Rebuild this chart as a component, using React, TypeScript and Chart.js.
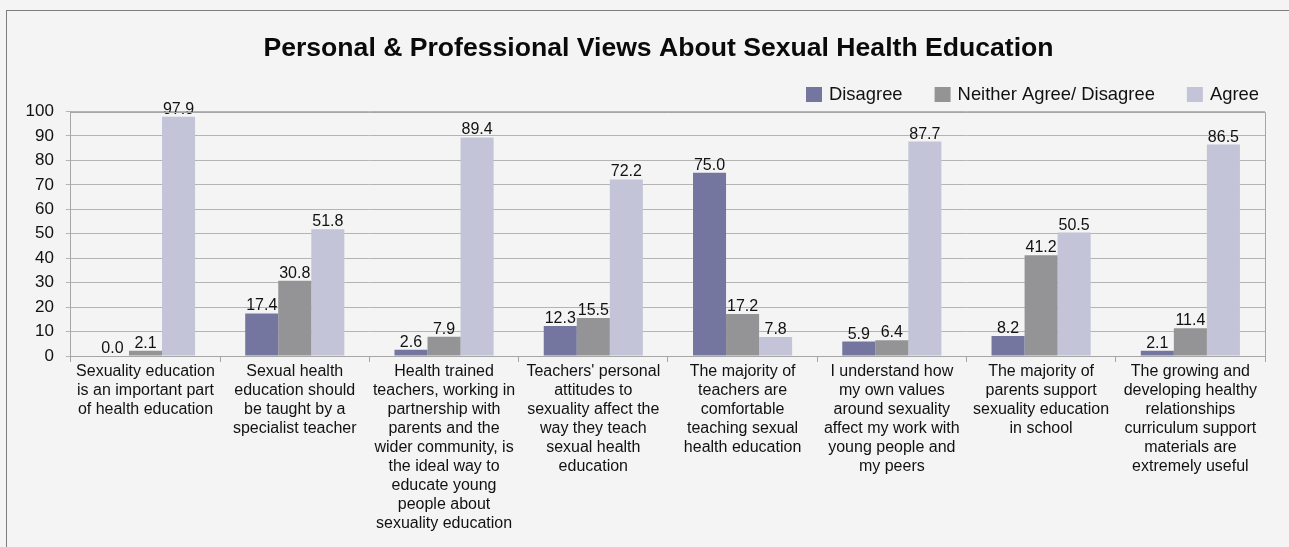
import React, { useEffect, useRef } from "react";
import { Chart, registerables } from "chart.js";

Chart.register(...registerables);

const FONT = "'Liberation Sans', Arial, sans-serif";

const categories: string[][] = [
  ["Sexuality education", "is an important part", "of health education"],
  ["Sexual health", "education should", "be taught by a", "specialist teacher"],
  [
    "Health trained",
    "teachers, working in",
    "partnership with",
    "parents and the",
    "wider community, is",
    "the ideal way to",
    "educate young",
    "people about",
    "sexuality education",
  ],
  ["Teachers' personal", "attitudes to", "sexuality affect the", "way they teach", "sexual health", "education"],
  ["The majority of", "teachers are", "comfortable", "teaching sexual", "health education"],
  ["I understand how", "my own values", "around sexuality", "affect my work with", "young people and", "my peers"],
  ["The majority of", "parents support", "sexuality education", "in school"],
  ["The growing and", "developing healthy", "relationships", "curriculum support", "materials are", "extremely useful"],
];

const seriesNames = ["Disagree", "Neither Agree/ Disagree", "Agree"];
const disagreeValues = [0.0, 17.4, 2.6, 12.3, 75.0, 5.9, 8.2, 2.1];
const neitherValues = [2.1, 30.8, 7.9, 15.5, 17.2, 6.4, 41.2, 11.4];
const agreeValues = [97.9, 51.8, 89.4, 72.2, 7.8, 87.7, 50.5, 86.5];
const seriesColors = ["#74769f", "#949497", "#c3c4d7"];

const titleText = "Personal & Professional Views About Sexual Health Education";
const yMin = 0;
const yMax = 100;
const yStep = 10;

const plotFrame = {
  id: "plotFrame",
  afterDraw(chart: any) {
    const { ctx, chartArea } = chart;
    ctx.save();
    ctx.strokeStyle = "#a6a6a6";
    ctx.lineWidth = 1;
    ctx.beginPath();
    ctx.moveTo(chartArea.left, Math.round(chartArea.top) + 0.5);
    ctx.lineTo(Math.round(chartArea.right) + 0.5, Math.round(chartArea.top) + 0.5);
    ctx.lineTo(Math.round(chartArea.right) + 0.5, chartArea.bottom);
    ctx.stroke();
    ctx.restore();
  },
};

const dataLabels = {
  id: "dataLabels",
  afterDatasetsDraw(chart: any) {
    const { ctx } = chart;
    ctx.save();
    ctx.font = `16px ${FONT}`;
    ctx.fillStyle = "#111";
    ctx.textAlign = "center";
    ctx.textBaseline = "alphabetic";
    chart.data.datasets.forEach((ds: any, di: number) => {
      const meta = chart.getDatasetMeta(di);
      meta.data.forEach((el: any, i: number) => {
        const v = ds.data[i] as number;
        ctx.fillText(v.toFixed(1), el.x, el.y - 3);
      });
    });
    ctx.restore();
  },
};

const chartTitle = {
  id: "chartTitle",
  afterDraw(chart: any) {
    const { ctx } = chart;
    ctx.save();
    ctx.font = `bold 26.6px ${FONT}`;
    ctx.fillStyle = "#0a0a0a";
    ctx.textAlign = "center";
    ctx.textBaseline = "middle";
    ctx.fillText(titleText, 658.5, 48.5);
    ctx.restore();
  },
};

const customLegend = {
  id: "customLegend",
  afterDraw(chart: any) {
    const { ctx } = chart;
    ctx.save();
    ctx.font = `18.4px ${FONT}`;
    ctx.textBaseline = "middle";
    ctx.textAlign = "left";
    const boxW = 16;
    const boxH = 15;
    const gapText = 7;
    const gapItem = 32;
    const leftEdge = 806;
    const cy = 94.5;
    let x = leftEdge;
    chart.data.datasets.forEach((ds: any) => {
      const w = ctx.measureText(ds.label).width;
      ctx.fillStyle = ds.backgroundColor;
      ctx.fillRect(x, cy - boxH / 2, boxW, boxH);
      ctx.fillStyle = "#111";
      ctx.fillText(ds.label, x + boxW + gapText, cy);
      x += boxW + gapText + w + gapItem;
    });
    ctx.restore();
  },
};

export default function App() {
  const canvasRef = useRef<HTMLCanvasElement | null>(null);

  useEffect(() => {
    if (!canvasRef.current) return;
    const chart = new Chart(canvasRef.current, {
      type: "bar",
      data: {
        labels: categories,
        datasets: [
          { label: seriesNames[0], data: disagreeValues, backgroundColor: seriesColors[0] },
          { label: seriesNames[1], data: neitherValues, backgroundColor: seriesColors[1] },
          { label: seriesNames[2], data: agreeValues, backgroundColor: seriesColors[2] },
        ],
      },
      options: {
        responsive: false,
        animation: false,
        devicePixelRatio: 1,
        datasets: {
          bar: { categoryPercentage: 0.664, barPercentage: 1.0, borderWidth: 0 },
        },
        layout: { padding: { left: 13.5, right: 52, top: 111.5, bottom: 14 } },
        plugins: {
          legend: { display: false },
          tooltip: { enabled: false },
          title: { display: false },
        },
        scales: {
          x: {
            grid: {
              drawOnChartArea: false,
              drawTicks: true,
              tickLength: 6,
              color: "#a6a6a6",
              offset: true,
            },
            border: { color: "#a6a6a6" },
            ticks: {
              color: "#111",
              font: { family: FONT, size: 16, lineHeight: 19 / 16 },
              padding: 0,
              maxRotation: 0,
              minRotation: 0,
              autoSkip: false,
            },
          },
          y: {
            min: yMin,
            max: yMax,
            grid: { color: "#b4b4b4", tickLength: 5, drawTicks: true },
            border: { color: "#a6a6a6" },
            ticks: {
              stepSize: yStep,
              color: "#111",
              font: { family: FONT, size: 17 },
              padding: 12,
            },
          },
        },
      },
      plugins: [plotFrame, dataLabels, chartTitle, customLegend],
    });
    return () => chart.destroy();
  }, []);

  return (
    <div
      style={{
        position: "fixed",
        left: 0,
        top: 0,
        width: 1289,
        height: 547,
        overflow: "hidden",
        background: "#f3f4f3",
      }}
    >
      <div
        style={{
          position: "absolute",
          left: 6,
          top: 10,
          width: 1400,
          height: 700,
          border: "1px solid #7c7c7c",
          boxSizing: "border-box",
        }}
      />
      <canvas
        ref={canvasRef}
        width={1317}
        height={547}
        style={{ position: "absolute", left: 0, top: 0, width: 1317, height: 547 }}
      />
    </div>
  );
}
